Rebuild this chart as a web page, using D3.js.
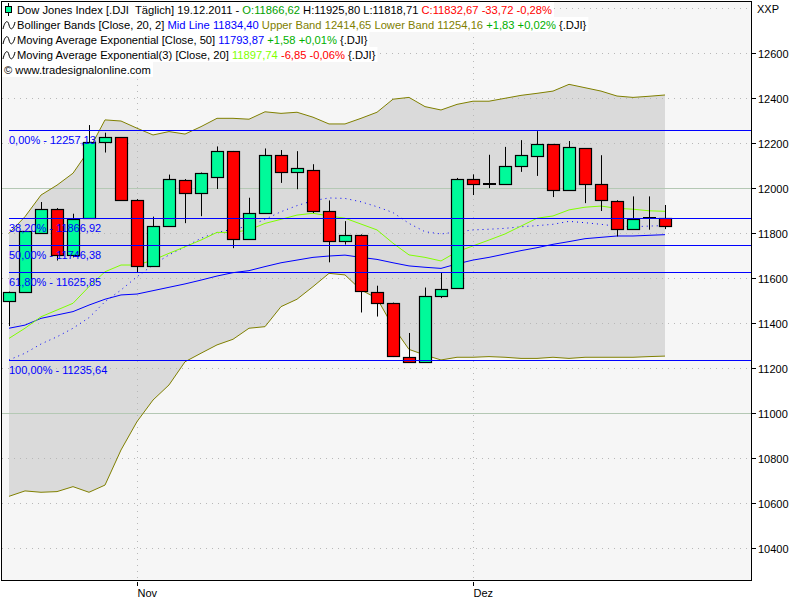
<!DOCTYPE html>
<html><head><meta charset="utf-8">
<script src="https://cdn.jsdelivr.net/npm/d3@7/dist/d3.min.js"></script>
<style>
body{margin:0;background:#fff}
svg{display:block}
text{font-family:"Liberation Sans",Arial,sans-serif;font-size:11px}
</style>
</head><body>
<svg id="c" width="800" height="600"></svg>
<script>
// ---------- data ----------
const dates = ["2011-10-20","2011-10-21","2011-10-24","2011-10-25","2011-10-26","2011-10-27","2011-10-28","2011-10-31",
"2011-11-01","2011-11-02","2011-11-03","2011-11-04","2011-11-07","2011-11-08","2011-11-09","2011-11-10","2011-11-11",
"2011-11-14","2011-11-15","2011-11-16","2011-11-17","2011-11-18","2011-11-21","2011-11-22","2011-11-23","2011-11-25",
"2011-11-28","2011-11-29","2011-11-30","2011-12-01","2011-12-02","2011-12-05","2011-12-06","2011-12-07","2011-12-08",
"2011-12-09","2011-12-12","2011-12-13","2011-12-14","2011-12-15","2011-12-16","2011-12-19"];
const open  = [11499,11539,11802,11909,11705,11869,12204,12226,11950,11655,11832,12039,11981,12052,12164,11775,11892,12150,12073,12083,11900,11767,11793,11539,11490,11249,11226,11521,11557,12043,12020,12017,12097,12142,12195,11994,12177,12017,11945,11820,11868,11866.62];
const high  = [11541,11810,11939,11912,11887,12281,12247,12228,11952,11874,12061,12041,12070,12186,12166,11958,12177,12170,12165,12107,11946,11854,11795,11567,11492,11357,11559,11624,12046,12062,12149,12184,12214,12254,12197,12210,12179,12147,11947,11964,11964,11925.80];
const low   = [11388,11535,11800,11679,11693,11866,12159,11948,11626,11652,11830,11845,11876,11997,11734,11772,11890,12024,11996,11890,11671,11750,11448,11430,11250,11224,11224,11512,11555,11970,12001,12015,12073,12055,11961,11992,11934,11899,11786,11818,11816,11818.71];
const close = [11539,11808,11909,11705,11863,12204,12226,11950,11655,11832,12042,11981,12066,12167,11775,11892,12150,12073,12092,11900,11767,11793,11543,11490,11253,11226,11521,11552,12043,12017,12020,12097,12146,12195,11994,12182,12017,11950,11820,11863,11866,11832.67];
const bbUpper = [11800,11874,11970,12014,12067,12170,12304,12299,12267,12237,12252,12241,12274,12311,12311,12307,12340,12333,12338,12316,12286,12286,12311,12338,12396,12404,12363,12348,12373,12387,12387,12400,12413,12422,12432,12462,12447,12432,12410,12404,12409,12414.65];
const bbLower = [10631,10655,10649,10652,10674,10649,10681,10837,10963,11059,11126,11229,11267,11304,11329,11378,11385,11474,11507,11563,11622,11615,11548,11511,11385,11284,11259,11237,11249,11249,11252,11249,11244,11244,11249,11244,11249,11249,11249,11249,11252,11254.16];
const bbMid   = [11237,11267,11308,11340,11378,11425,11496,11548,11607,11659,11704,11740,11778,11804,11818,11832,11862,11896,11923,11945,11957,11955,11940,11918,11892,11844,11807,11797,11806,11815,11818,11822,11829,11834,11840,11853,11847,11840,11831,11829,11832,11834.40];
const ema50   = [11378,11392,11422,11437,11452,11481,11507,11526,11530,11545,11560,11575,11592,11610,11625,11634,11652,11669,11681,11693,11699,11703,11693,11684,11669,11655,11649,11644,11664,11681,11693,11708,11723,11736,11751,11763,11776,11782,11788,11788,11791,11793.87];
const ema20   = [11333,11378,11429,11459,11489,11563,11629,11659,11659,11681,11711,11740,11770,11804,11804,11815,11844,11862,11881,11889,11877,11867,11841,11815,11756,11704,11693,11677,11718,11744,11770,11797,11832,11867,11877,11904,11916,11921,11911,11907,11900,11897.74];
const fibPct    = ["0,00%","38,20%","50,00%","61,80%","100,00%"];
const fibLevels = [12257.13,11866.92,11746.38,11625.85,11235.64];
const yTickValues = [10400,10600,10800,11000,11200,11400,11600,11800,12000,12200,12400,12600];
const yGridExtra  = [12800];
const yMajorGrid  = [11000,12000];
const monthLabels = {"11":"Nov","12":"Dez"};

// ---------- layout ----------
const svg = d3.select("#c");
const L = 1, T = 1, R = 752, B = 580;
const y = d3.scaleLinear().domain([10259.1, 12832.4]).range([B, T]);
const x = d3.scaleLinear().domain([0, dates.length - 1]).range([9, 665]);
const idx = d3.range(dates.length);

svg.append("rect").attr("x",0).attr("y",0).attr("width",800).attr("height",600).attr("fill","#fff");
svg.append("rect").attr("x",L).attr("y",T).attr("width",R-L).attr("height",B-T).attr("fill","#f6f6f6");

// Bollinger fill
svg.append("path").datum(idx)
  .attr("d", d3.area().x(i=>x(i)).y0(i=>y(bbLower[i])).y1(i=>y(bbUpper[i])))
  .attr("fill","#dadada");

// grid
const gy = v => Math.round(y(v)) + 0.5;
const grid = svg.append("g");
yTickValues.concat(yGridExtra).filter(v=>!yMajorGrid.includes(v)).forEach(v=>{
  grid.append("line").attr("x1",L+1).attr("x2",R).attr("y1",gy(v)).attr("y2",gy(v))
    .attr("stroke","#b8b8b8").attr("stroke-dasharray","1,5");
});
yMajorGrid.forEach(v=>{
  grid.append("line").attr("x1",L+1).attr("x2",R).attr("y1",gy(v)).attr("y2",gy(v))
    .attr("stroke","#b4c8b4");
});
// month ticks
const monthIdx = idx.filter(i => i>0 && dates[i].slice(5,7) !== dates[i-1].slice(5,7));
monthIdx.forEach(i=>{
  const xx = Math.round(x(i)) + 0.5;
  grid.append("line").attr("x1",xx).attr("x2",xx).attr("y1",T).attr("y2",B)
    .attr("stroke","#b8b8b8").attr("stroke-dasharray","1,5");
});

// band lines
const line = arr => d3.line().x(i=>x(i)).y(i=>y(arr[i]));
svg.append("path").datum(idx).attr("d",line(bbUpper)).attr("fill","none").attr("stroke","#808000");
svg.append("path").datum(idx).attr("d",line(bbLower)).attr("fill","none").attr("stroke","#808000");
svg.append("path").datum(idx).attr("d",line(bbMid)).attr("fill","none").attr("stroke","#0000ff").attr("stroke-dasharray","1,4");
svg.append("path").datum(idx).attr("d",line(ema50)).attr("fill","none").attr("stroke","#0000ff");
svg.append("path").datum(idx).attr("d",line(ema20)).attr("fill","none").attr("stroke","#80ff00");

// candles
const cg = svg.append("g");
idx.forEach(i=>{
  const cx = Math.round(x(i)) + 0.5;
  cg.append("line").attr("x1",cx).attr("x2",cx).attr("y1",y(high[i])).attr("y2",y(low[i]))
    .attr("stroke","#000");
  const top = Math.round(y(Math.max(open[i],close[i])));
  const bot = Math.round(y(Math.min(open[i],close[i])));
  if (bot - top < 2) {
    cg.append("rect").attr("x",cx-6.5).attr("y",top-1).attr("width",13).attr("height",2).attr("fill","#000");
  } else {
    cg.append("rect").attr("x",cx-6).attr("y",top+0.5).attr("width",12).attr("height",bot-top)
      .attr("fill", close[i] >= open[i] ? "#00fa9a" : "#ff0000")
      .attr("stroke","#000").attr("stroke-width",1.2);
  }
});

// fib lines
const fg = svg.append("g");
fibLevels.forEach((v,k)=>{
  const yy = Math.round(y(v)) + 0.5;
  fg.append("line").attr("x1",9).attr("x2",R).attr("y1",yy).attr("y2",yy).attr("stroke","#0000ff");
  fg.append("text").attr("x",9).attr("y",yy+13).attr("fill","#0000ff")
    .text(fibPct[k] + " - " + d3.format(".2f")(v).replace(".",","));
});

// frame
svg.append("rect").attr("x",L+0.5).attr("y",T+0.5).attr("width",R-L-1).attr("height",B-T)
  .attr("fill","none").attr("stroke","#000");

// right axis
const ax = svg.append("g");
yTickValues.forEach(v=>{
  const yy = Math.round(y(v)) + 0.5;
  ax.append("line").attr("x1",R).attr("x2",R+4).attr("y1",yy).attr("y2",yy).attr("stroke","#000");
  ax.append("text").attr("x",R+6).attr("y",yy+4).attr("fill","#000").text(v);
});
ax.append("text").attr("x",R+5).attr("y",13).attr("fill","#000").text("XXP");

// bottom axis
monthIdx.forEach(i=>{
  const xx = Math.round(x(i)) + 0.5;
  ax.append("line").attr("x1",xx).attr("x2",xx).attr("y1",B+2).attr("y2",B+6).attr("stroke","#000");
  ax.append("text").attr("x",xx).attr("y",B+17).attr("fill","#000")
    .style("font-family","'Liberation Sans Narrow','Liberation Sans',sans-serif").style("font-size","11px")
    .text(monthLabels[dates[i].slice(5,7)]);
});

// legend
const rows = [
  [["Dow Jones Index [.DJI  Täglich] 19.12.2011 - ","#000"],["O:11866,62","#00a000"],[" H:11925,80 L:11818,71 ","#000"],["C:11832,67 -33,72 -0,28%","#ff0000"]],
  [["Bollinger Bands [Close, 20, 2] ","#000"],["Mid Line 11834,40","#0000ff"],[" Upper Band 12414,65 Lower Band 11254,16","#808000"],[" +1,83 +0,02%","#00b000"],[" {.DJI}","#000"]],
  [["Moving Average Exponential [Close, 50] ","#000"],["11793,87","#0000ff"],[" +1,58 +0,01%","#00b000"],[" {.DJI}","#000"]],
  [["Moving Average Exponential(3) [Close, 20] ","#000"],["11897,74","#80ff00"],[" -6,85 -0,06%","#ff0000"],[" {.DJI}","#000"]],
  [["© www.tradesignalonline.com","#000"]]
];
const lg = svg.append("g");
rows.forEach((r,k)=>{
  const y0 = 2 + k*15;
  const bg = lg.append("rect").attr("x",2).attr("y",y0).attr("height",15).attr("fill","#fff");
  const tx = k===4 ? 4 : 17;
  const t = lg.append("text").attr("x",tx).attr("y",y0+12).style("font-size","11.2px");
  t.attr("xml:space","preserve");
  r.forEach(([s,c])=>t.append("tspan").attr("fill",c).style("white-space","pre").text(s));
  const w = t.node().getComputedTextLength();
  bg.attr("width", tx + w);
  if (k===0) {
    lg.append("line").attr("x1",8.5).attr("x2",8.5).attr("y1",y0+1).attr("y2",y0+14).attr("stroke","#000");
    lg.append("rect").attr("x",5.5).attr("y",y0+4.5).attr("width",6).attr("height",6).attr("fill","#00fa9a").attr("stroke","#000");
  } else if (k<4) {
    lg.append("path").attr("d",`M3,${y0+12} C5,${y0+3} 8,${y0+3} 9,${y0+8} S13,${y0+14} 15,${y0+5}`)
      .attr("fill","none").attr("stroke","#000");
  }
});
</script>
</body></html>
